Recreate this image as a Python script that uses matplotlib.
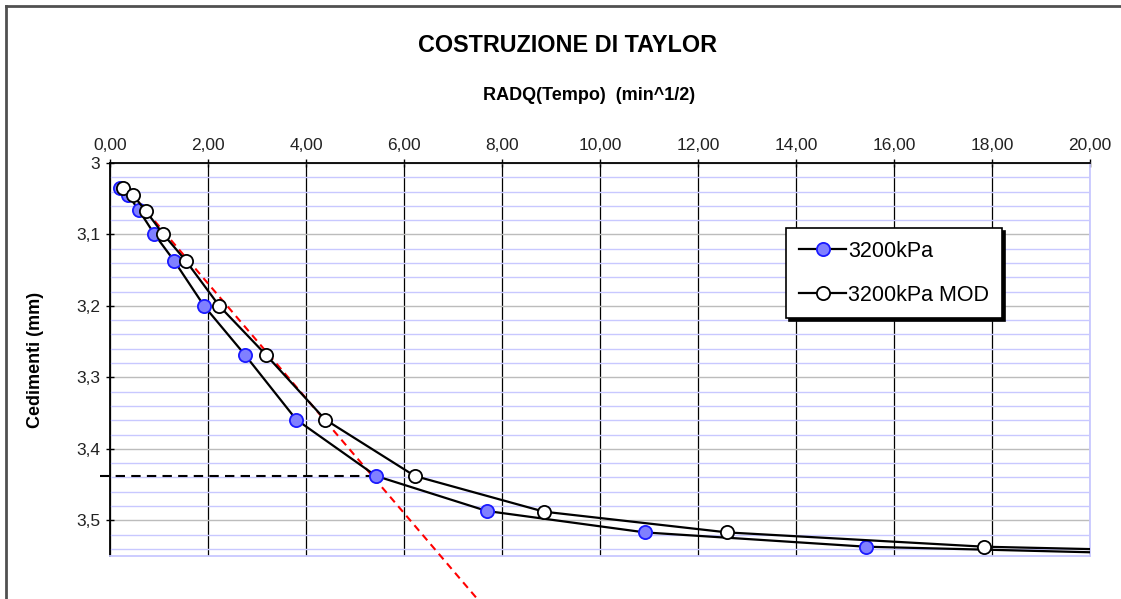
import matplotlib.pyplot as plt
from matplotlib.ticker import MultipleLocator, FuncFormatter
from matplotlib.lines import Line2D

plt.rcParams['font.family'] = ['Liberation Sans', 'DejaVu Sans']

# RADQ(tempo) in min^1/2 and settlements in mm
x_3200 = [0.20, 0.37, 0.59, 0.90, 1.31, 1.92, 2.76, 3.80, 5.43, 7.69, 10.92, 15.43, 21.90]
y_3200 = [3.035, 3.045, 3.066, 3.099, 3.137, 3.200, 3.269, 3.359, 3.438, 3.487, 3.517, 3.537, 3.548]
x_mod = [0.27, 0.47, 0.73, 1.08, 1.55, 2.23, 3.19, 4.39, 6.22, 8.86, 12.60, 17.84, 25.00]
y_mod = [3.035, 3.045, 3.067, 3.099, 3.137, 3.200, 3.269, 3.359, 3.438, 3.488, 3.517, 3.537, 3.548]

# Taylor construction: tangent line and reading at the intersection
taylor_x = [0.25, 7.47]
taylor_y = [3.028, 3.608]
read_x = [-0.2, 5.43]
read_y = [3.438, 3.438]

fig = plt.figure(figsize=(11.21, 5.99), dpi=100)
ax = fig.add_axes([110/1121, 1 - 556/599, 980/1121, 393/599])

ax.set_xlim(0, 20)
ax.set_ylim(3.55, 3.0)
ax.xaxis.tick_top()
ax.xaxis.set_major_locator(MultipleLocator(2))
ax.xaxis.set_major_formatter(FuncFormatter(lambda v, p: f"{v:.2f}".replace('.', ',')))
ax.yaxis.set_major_locator(MultipleLocator(0.1))
ax.yaxis.set_minor_locator(MultipleLocator(0.02))
ax.yaxis.set_major_formatter(FuncFormatter(lambda v, p: f"{round(v, 2):g}".replace('.', ',')))
ax.tick_params(which='major', direction='inout', length=6, width=1, labelsize=12.5,
               colors='black', labelcolor='#222222', pad=4)
ax.tick_params(which='minor', length=0)

# grid
ax.grid(which='minor', axis='y', color='#c8c8ff', lw=1)
ax.grid(which='major', axis='y', color='#bcbcbc', lw=1)
ax.grid(which='major', axis='x', color='black', lw=0.9)
ax.set_axisbelow(True)

for s in ['top', 'left']:
    ax.spines[s].set_color('black')
    ax.spines[s].set_linewidth(1.3)
for s in ['bottom', 'right']:
    ax.spines[s].set_color('#c8c8ff')
    ax.spines[s].set_linewidth(1.3)

ax.plot(x_3200, y_3200, color='black', lw=1.6, marker='o', ms=9.5,
        mfc='#8080ff', mec='#1a1aff', mew=1.3, zorder=4)
ax.plot(x_mod, y_mod, color='black', lw=1.6, marker='o', ms=9.5,
        mfc='white', mec='black', mew=1.3, zorder=4)

ax.plot(taylor_x, taylor_y, color='red', lw=1.5, ls=(0, (3.5, 2.5)), clip_on=False, zorder=3)
ax.plot(read_x, read_y, color='black', lw=1.5, ls=(0, (4.5, 3)), clip_on=False, zorder=3)

handles = [
    Line2D([], [], color='black', lw=1.6, marker='o', ms=9.5, mfc='#8080ff', mec='#1a1aff', mew=1.3),
    Line2D([], [], color='black', lw=1.6, marker='o', ms=9.5, mfc='white', mec='black', mew=1.3),
]
leg = ax.legend(handles, ['3200kPa', '3200kPa MOD'], loc='upper left',
                bbox_to_anchor=(676/980, (556 - 228)/393), fontsize=15.5,
                fancybox=False, framealpha=1, edgecolor='black',
                shadow={'color': 'black', 'alpha': 1},
                handlelength=2.2, handletextpad=0.1, labelspacing=1.05,
                borderpad=0.6, borderaxespad=0)
leg.get_frame().set_linewidth(1.2)
leg.set_zorder(6)

fig.text(567/1121, 1 - 46/599, 'COSTRUZIONE DI TAYLOR', ha='center', va='center',
         fontsize=16.8, fontweight='bold')
fig.text(589/1121, 1 - 96/599, 'RADQ(Tempo)  (min^1/2)', ha='center', va='center',
         fontsize=13, fontweight='bold')
fig.text(35/1121, 1 - 360/599, 'Cedimenti (mm)', ha='center', va='center',
         rotation=90, fontsize=13, fontweight='bold')

# chart frame
fig.add_artist(Line2D([6/1121, 6/1121], [0, 1 - 6/599], color='#505050', lw=2))
fig.add_artist(Line2D([6/1121, 1], [1 - 6/599, 1 - 6/599], color='#505050', lw=2))

fig.savefig('out.png', dpi=100)
